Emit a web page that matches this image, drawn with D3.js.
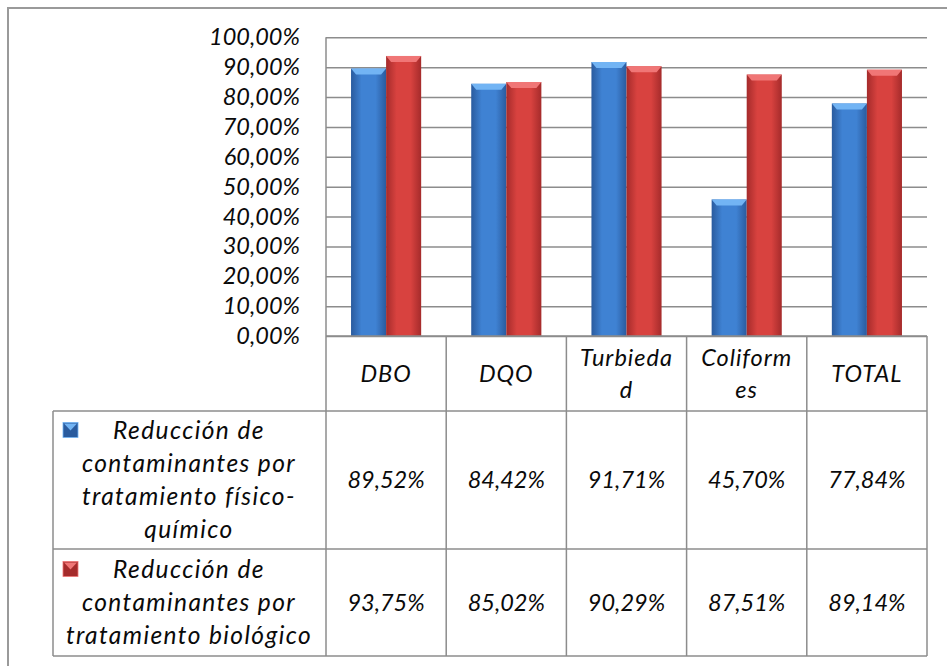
<!DOCTYPE html>
<html>
<head>
<meta charset="utf-8">
<script src="https://cdn.jsdelivr.net/npm/d3@7"></script>
<style>
  body { margin: 0; background: #fff; }
  svg text { font-family: "Lato", "Open Sans", sans-serif; font-style: italic; fill: #0a0a0a; }
</style>
</head>
<body>
<svg id="chart" width="947" height="666"></svg>
<script>
// ------- data -------
var categories = ["DBO", "DQO", "Turbiedad", "Coliformes", "TOTAL"];
var headerLines = [["DBO"], ["DQO"], ["Turbieda", "d"], ["Coliform", "es"], ["TOTAL"]];
var seriesNames = ["Reducción de contaminantes por tratamiento físico-químico",
                   "Reducción de contaminantes por tratamiento biológico"];
var seriesLines = [["Reducción de", "contaminantes por", "tratamiento físico-", "químico"],
                   ["Reducción de", "contaminantes por", "tratamiento biológico"]];
var fisicoQuimico = [89.52, 84.42, 91.71, 45.70, 77.84];
var biologico = [93.75, 85.02, 90.29, 87.51, 89.14];
var yTickValues = [0, 10, 20, 30, 40, 50, 60, 70, 80, 90, 100];

var series = [fisicoQuimico, biologico];

// ------- layout -------
var plot = { left: 326, right: 927, top: 37.3, bottom: 336 };
var tableLeft = 53;
var headerBottom = 411;
var rowBounds = [411, 549, 656];
var lineGap = 33;
var fontSize = 23.5;
var gridColor = "#8c8c8c";

var colors = [
    { edge: "#2a5b9e", mid: "#3f82d3", top: "#72b4f4" },
    { edge: "#a52b2b", mid: "#d8423f", top: "#f07676" }
];

var svg = d3.select("#chart");

var fmt = function (v) {
    return v.toFixed(2).replace(".", ",") + "%";
};

var x = d3.scaleBand().domain(categories).range([plot.left, plot.right]);
var xs = d3.scaleBand().domain([0, 1]).range([0, x.bandwidth()]).paddingOuter(0.714);
var y = d3.scaleLinear().domain([0, 100]).range([plot.bottom, plot.top]);

// gradients
var defs = svg.append("defs");
colors.forEach(function (c, i) {
    var g = defs.append("linearGradient").attr("id", "bar" + i)
        .attr("x1", "0").attr("x2", "1").attr("y1", "0").attr("y2", "0");
    g.append("stop").attr("offset", "0").attr("stop-color", c.edge);
    g.append("stop").attr("offset", "0.3").attr("stop-color", c.mid);
    g.append("stop").attr("offset", "0.7").attr("stop-color", c.mid);
    g.append("stop").attr("offset", "1").attr("stop-color", c.edge);
});

// outer frame (only left and top visible)
svg.append("path")
    .attr("d", "M8,666 L8,8 L947,8")
    .attr("fill", "none")
    .attr("stroke", "#9a9a9a")
    .attr("stroke-width", 2);

// gridlines
var grid = svg.append("g")
    .attr("transform", "translate(" + plot.left + ",0)")
    .call(d3.axisLeft(y).tickValues(yTickValues)
        .tickSize(-(plot.right - plot.left)).tickFormat(""));
grid.select(".domain").remove();
grid.selectAll("line").attr("stroke", gridColor).attr("stroke-width", 1.5);

// y labels
var yAxis = svg.append("g")
    .attr("transform", "translate(300,0)")
    .call(d3.axisLeft(y).tickValues(yTickValues).tickSize(0).tickPadding(0)
        .tickFormat(function (d) { return fmt(d); }));
yAxis.select(".domain").remove();
yAxis.selectAll("text")
    .attr("font-size", fontSize)
    .style("font-family", "Lato, sans-serif")
    .style("font-style", "italic")
    .attr("fill", "#0a0a0a");

// plot left border
svg.append("line")
    .attr("x1", plot.left).attr("x2", plot.left)
    .attr("y1", plot.top).attr("y2", plot.bottom)
    .attr("stroke", gridColor).attr("stroke-width", 1.5);

// bars
var groups = svg.selectAll(".grp")
    .data(categories)
    .enter()
    .append("g")
    .attr("class", "grp")
    .attr("transform", function (d) { return "translate(" + x(d) + ",0)"; });

series.forEach(function (vals, si) {
    groups.each(function (cat, ci) {
        var g = d3.select(this);
        var x0 = xs(si), w = xs.bandwidth();
        var yt = y(vals[ci]);
        g.append("rect")
            .attr("x", x0).attr("y", yt)
            .attr("width", w).attr("height", plot.bottom - yt)
            .attr("fill", "url(#bar" + si + ")");
        // top bevel
        g.append("path")
            .attr("d", "M" + x0 + "," + yt + " L" + (x0 + w) + "," + yt +
                " L" + (x0 + w - 5) + "," + (yt + 6) + " L" + (x0 + 5) + "," + (yt + 6) + "Z")
            .attr("fill", colors[si].top);
    });
});

// data table
var tbl = svg.append("g").attr("stroke", gridColor).attr("stroke-width", 1.5);
var colEdges = categories.map(function (d) { return x(d); }).concat([plot.right]);
colEdges.forEach(function (cx) {
    tbl.append("line").attr("x1", cx).attr("x2", cx)
        .attr("y1", plot.bottom).attr("y2", rowBounds[2]);
});
tbl.append("line").attr("x1", tableLeft).attr("x2", tableLeft)
    .attr("y1", rowBounds[0]).attr("y2", rowBounds[2]);
tbl.append("line").attr("x1", plot.left).attr("x2", plot.right)
    .attr("y1", plot.bottom).attr("y2", plot.bottom);
rowBounds.forEach(function (ry) {
    tbl.append("line").attr("x1", tableLeft).attr("x2", plot.right)
        .attr("y1", ry).attr("y2", ry);
});

// header text
headerLines.forEach(function (lines, i) {
    var cy = (plot.bottom + headerBottom) / 2;
    var cx = x(categories[i]) + x.bandwidth() / 2;
    lines.forEach(function (ln, j) {
        svg.append("text")
            .attr("x", cx)
            .attr("y", cy + (j - (lines.length - 1) / 2) * 32)
            .attr("dy", "0.35em")
            .attr("text-anchor", "middle")
            .attr("font-size", fontSize)
            .attr("letter-spacing", 1)
            .text(ln);
    });
});

// legend rows and values
seriesLines.forEach(function (lines, si) {
    var top = rowBounds[si], bot = rowBounds[si + 1];
    var cy = (top + bot) / 2;
    lines.forEach(function (ln, j) {
        svg.append("text")
            .attr("x", 189)
            .attr("y", cy + (j - (lines.length - 1) / 2) * lineGap)
            .attr("dy", "0.35em")
            .attr("text-anchor", "middle")
            .attr("font-size", 24.5)
            .attr("letter-spacing", 1.4)
            .text(ln);
    });
    // legend key
    var ky = cy - ((lines.length - 1) / 2) * lineGap - 8;
    var k = svg.append("g").attr("transform", "translate(63," + ky + ")");
    k.append("rect").attr("width", 15).attr("height", 15)
        .attr("fill", colors[si].edge).attr("stroke", colors[si].top).attr("stroke-width", 0.8);
    k.append("path").attr("d", "M1,1 L14,1 L7.5,8 Z").attr("fill", colors[si].top);

    series[si].forEach(function (v, ci) {
        svg.append("text")
            .attr("x", x(categories[ci]) + x.bandwidth() / 2)
            .attr("y", cy)
            .attr("dy", "0.35em")
            .attr("text-anchor", "middle")
            .attr("font-size", fontSize)
            .text(fmt(v));
    });
});
</script>
</body>
</html>
